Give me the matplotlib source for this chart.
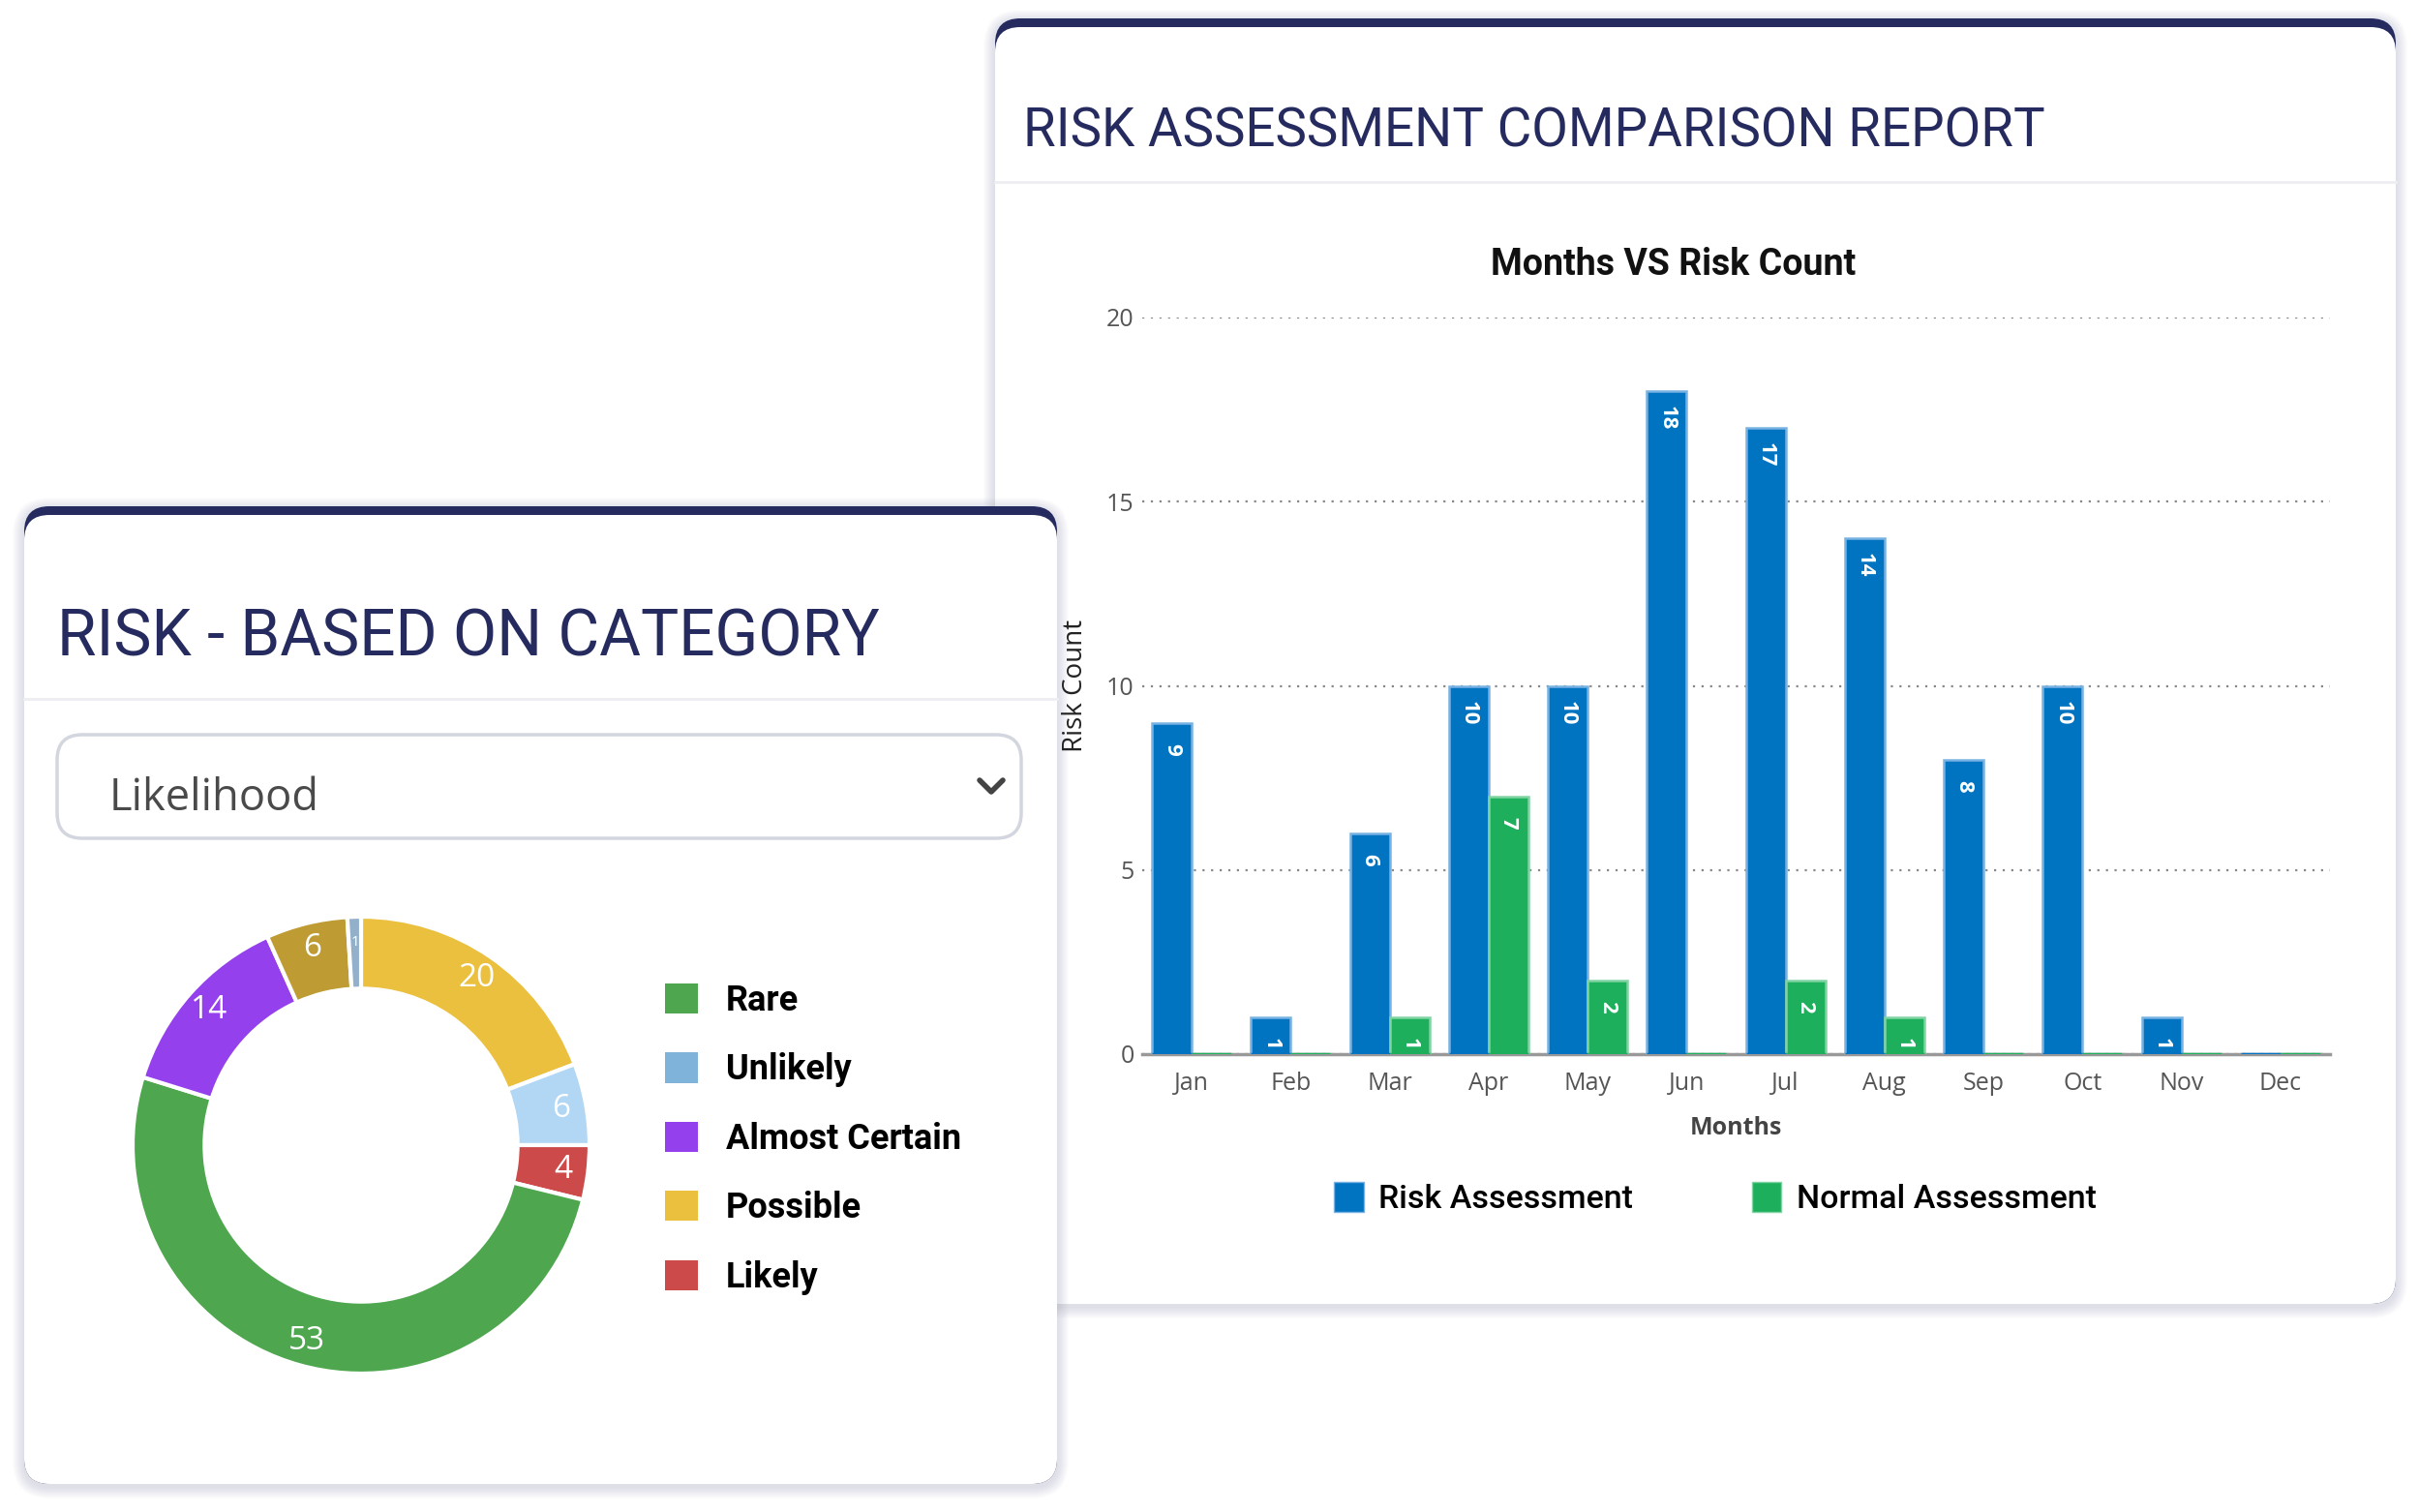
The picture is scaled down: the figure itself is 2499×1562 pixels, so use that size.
import matplotlib
matplotlib.use("Agg")
import matplotlib.pyplot as plt
from matplotlib.patches import FancyBboxPatch, Patch
from matplotlib import font_manager
import numpy as np

W, H = 2499, 1562

# bar chart data
months = ["Jan", "Feb", "Mar", "Apr", "May", "Jun", "Jul", "Aug", "Sep", "Oct", "Nov", "Dec"]
risk_assessment = [9, 1, 6, 10, 10, 18, 17, 14, 8, 10, 1, 0]
normal_assessment = [0, 0, 1, 7, 2, 0, 2, 1, 0, 0, 0, 0]

# donut data (clockwise from 12 o'clock)
likelihood = ["Possible", "Unlikely", "Likely", "Rare", "Almost Certain", "Moderate", "Not Rated"]
likelihood_counts = [20, 6, 4, 53, 14, 6, 1]
legend_items = ["Rare", "Unlikely", "Almost Certain", "Possible", "Likely"]

slice_colors = ["#EBC03F", "#B1D7F5", "#CC4A4A", "#4EA74E", "#9440ED", "#BE9C33", "#92B0CA"]
legend_colors = ["#4EA74E", "#80B3DA", "#9440ED", "#EBC03F", "#CC4A4A"]
NAVY = "#262B5F"
BLUE, GREEN = "#0073C1", "#1DAF5B"

installed = {f.name for f in font_manager.fontManager.ttflist}
narrow = "Liberation Sans Narrow" if "Liberation Sans Narrow" in installed else "Roboto"

fig = plt.figure(figsize=(W / 100, H / 100), dpi=100)
fig.patch.set_facecolor("white")
bg = fig.add_axes([0, 0, 1, 1], zorder=0)
bg.set_xlim(0, W)
bg.set_ylim(H, 0)
bg.axis("off")
renderer = fig.canvas.get_renderer()


def card(x0, y0, x1, y1, r=26):
    for k in range(12, 0, -1):
        bg.add_patch(FancyBboxPatch((x0 - k, y0 - k + 3), x1 - x0 + 2 * k, y1 - y0 + 2 * k,
                                    boxstyle=f"round,pad=0,rounding_size={r + k}",
                                    fc="#3a3f60", ec="none", alpha=0.012))
    bg.add_patch(FancyBboxPatch((x0, y0), x1 - x0, y1 - y0,
                                boxstyle=f"round,pad=0,rounding_size={r}", fc=NAVY, ec="none"))
    bg.add_patch(FancyBboxPatch((x0, y0 + 9), x1 - x0, y1 - y0 - 9,
                                boxstyle=f"round,pad=0,rounding_size={r}", fc="white", ec="none"))


def fit_text(t, target):
    w = t.get_window_extent(renderer).width
    t.set_fontsize(t.get_fontsize() * target / w)


# right card
card(1028, 19, 2475, 1347)
bg.plot([1028, 2475], [188, 188], color="#EEEEF2", lw=2)
t = bg.text(1057, 151, "RISK ASSESSMENT COMPARISON REPORT", color=NAVY, family=narrow,
            fontsize=44, va="baseline", ha="left")
fit_text(t, 1055)

# left card
card(25, 523, 1092, 1533)
bg.plot([25, 1092], [722, 722], color="#EEEEF2", lw=2)
t = bg.text(59, 677, "RISK - BASED ON CATEGORY", color=NAVY, family=narrow,
            fontsize=50, va="baseline", ha="left")
fit_text(t, 851)

# dropdown
bg.add_patch(FancyBboxPatch((59, 759), 996, 107, boxstyle="round,pad=0,rounding_size=26",
                            fc="white", ec="#D3D6DF", lw=2.5))
t = bg.text(113, 837, "Likelihood", color="#4a4a4a", family="Open Sans", fontsize=30,
            va="baseline", ha="left")
fit_text(t, 217)
bg.plot([1012, 1024, 1036], [806, 818, 806], color="#444444", lw=4, solid_capstyle="round")

# bar chart
ax = fig.add_axes([1180 / W, 1 - 1089 / H, 1227 / W, 761 / H], zorder=1)
ax.set_facecolor("none")
x = np.arange(len(months))
w = 0.4
b1 = ax.bar(x - w / 2, risk_assessment, w, color=BLUE, edgecolor="#78B2E2", linewidth=1.8, zorder=3)
b2 = ax.bar(x + w / 2, normal_assessment, w, color=GREEN, edgecolor="#80D4A3", linewidth=1.8, zorder=3)
# zero values still show as a thin line on the baseline
ax.bar(x - w / 2, [0] * len(months), w, edgecolor=BLUE, fc="none", linewidth=2.5, zorder=4)
ax.bar(x + w / 2, [0] * len(months), w, edgecolor=GREEN, fc="none", linewidth=2.5, zorder=4)
for bars, vals in [(b1, risk_assessment), (b2, normal_assessment)]:
    for rect, v in zip(bars, vals):
        if v > 0:
            ax.annotate(str(v), (rect.get_x() + rect.get_width() / 2, v), xytext=(0, -20),
                        textcoords="offset points", rotation=270, ha="center", va="center",
                        color="white", fontsize=16, fontweight="bold", family="Open Sans", zorder=5)
ax.set_xlim(-0.5, 11.5)
ax.set_ylim(0, 20)
ax.set_yticks([0, 5, 10, 15, 20])
ax.set_xticks(x)
ax.set_xticklabels(months)
ax.tick_params(length=0, labelsize=18, labelcolor="#555555")
ax.tick_params(axis="x", pad=13)
ax.tick_params(axis="y", pad=6)
for lab in ax.get_xticklabels() + ax.get_yticklabels():
    lab.set_family("Open Sans")
ax.grid(axis="y", linestyle=(0, (1, 3)), color="#888888", lw=1.6)
ax.set_axisbelow(True)
for s in ["top", "right", "left"]:
    ax.spines[s].set_visible(False)
ax.spines["bottom"].set_color("#999999")
ax.spines["bottom"].set_linewidth(2.5)
ax.spines["bottom"].set_zorder(2)
ax.set_xlabel("Months", fontsize=18, fontweight="bold", color="#444444", family="Open Sans")
ax.xaxis.set_label_coords(0.5, -(1166 - 1089) / 761)
ax.xaxis.label.set_va("center")
ax.set_ylabel("Risk Count", fontsize=20, color="#222222", family="Open Sans")
ax.yaxis.set_label_coords((1111 - 1180) / 1227, 0.5)
ax.yaxis.label.set_va("center")
fig.text(1729 / W, 1 - 273 / H, "Months VS Risk Count", ha="center", va="center",
         fontsize=27, fontweight="bold", family="Roboto", color="#111111")
ax.legend(handles=[Patch(fc=BLUE, ec="#78B2E2"), Patch(fc=GREEN, ec="#80D4A3")],
          labels=["Risk Assessment", "Normal Assessment"], ncol=2, loc="center",
          bbox_to_anchor=(1772, 1238), bbox_transform=bg.transData, frameon=False,
          prop={"family": "Roboto", "size": 24.5, "weight": "medium"},
          handlelength=0.9, handleheight=1.0, handletextpad=0.45, columnspacing=3.6,
          borderpad=0, borderaxespad=0)

# donut
pax = fig.add_axes([(373 - 236) / W, 1 - (1183 + 236) / H, 472 / W, 472 / H], zorder=2)
wedges, _ = pax.pie(likelihood_counts, colors=slice_colors, startangle=90, counterclock=False,
                    radius=1, wedgeprops=dict(width=0.315, edgecolor="white", linewidth=3))
pax.set_xlim(-1, 1)
pax.set_ylim(-1, 1)
for wd, v in zip(wedges, likelihood_counts):
    ang = np.deg2rad((wd.theta1 + wd.theta2) / 2)
    pax.text(0.89 * np.cos(ang), 0.89 * np.sin(ang), str(v), ha="center", va="center",
             color="white", fontsize=24 if v > 1 else 11, family="Open Sans")

bg.legend(handles=[Patch(fc=c, ec="none") for c in legend_colors], labels=legend_items,
          loc="upper left", bbox_to_anchor=(687, 1016), bbox_transform=bg.transData,
          frameon=False, prop={"family": "Roboto", "size": 26, "weight": "bold"},
          handlelength=0.95, handleheight=0.95, handletextpad=0.8, labelspacing=0.98,
          borderpad=0, borderaxespad=0)

fig.savefig("out.png", dpi=100, facecolor="white")
